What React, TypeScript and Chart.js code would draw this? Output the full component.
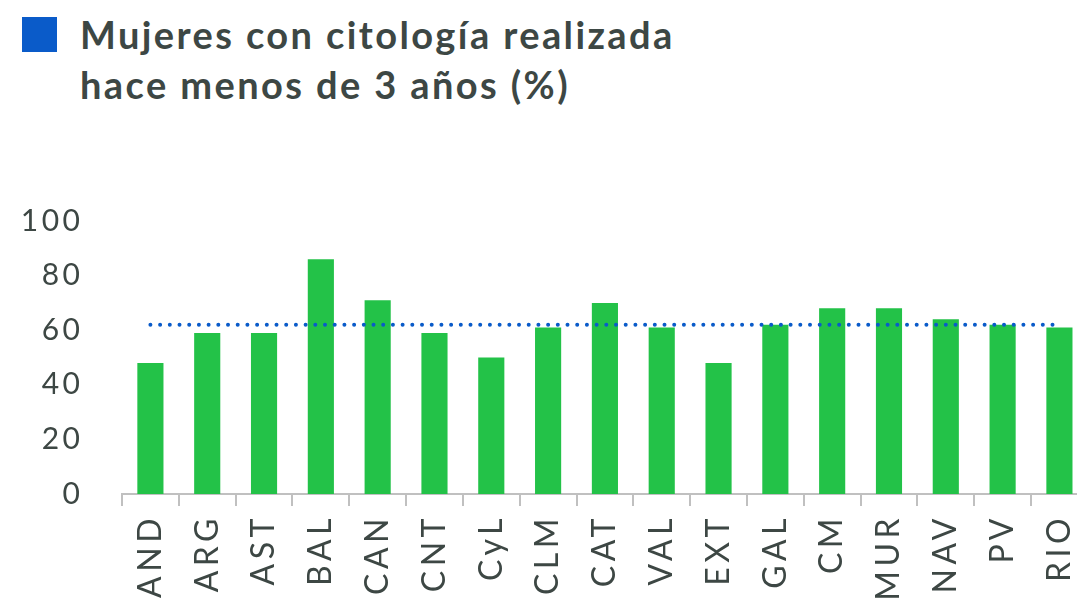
import React, { useEffect, useRef } from "react";
import { Chart, registerables } from "chart.js";

Chart.register(...registerables);

const categories = ["AND", "ARG", "AST", "BAL", "CAN", "CNT", "CyL", "CLM", "CAT", "VAL", "EXT", "GAL", "CM", "MUR", "NAV", "PV", "RIO"];
const values = [48, 59, 59, 86, 71, 59, 50, 61, 70, 61, 48, 62, 68, 68, 64, 62, 61];
const averageValue = 62;
const yTicks = [0, 20, 40, 60, 80, 100];
const titleLines = ["Mujeres con citología realizada", "hace menos de 3 años (%)"];

const GREEN = "#23c248";
const BLUE = "#0a5bc9";
const TEXT = "#3d4744";
const AXIS = "#c0c0c0";

function withSpacing(spacing: number) {
  return (s: any) => {
    if (s.__patched) return;
    s.__patched = true;
    const orig = s.drawLabels.bind(s);
    s.drawLabels = (area: any) => {
      const ctx = s.ctx;
      ctx.save();
      ctx.letterSpacing = spacing + "px";
      orig(area);
      ctx.restore();
    };
  };
}

export default function App() {
  const ref = useRef<HTMLCanvasElement | null>(null);

  useEffect(() => {
    document.body.style.margin = "0";
    document.body.style.overflow = "hidden";
    if (!ref.current) return;
    const patchX = withSpacing(4.5);
    const patchY = withSpacing(3.5);
    const chart = new Chart(ref.current, {
      type: "bar",
      data: {
        labels: categories,
        datasets: [
          {
            type: "line",
            label: "Media",
            data: categories.map(() => averageValue),
            borderColor: BLUE,
            backgroundColor: BLUE,
            borderWidth: 4,
            borderDash: [0, 9.7],
            borderCapStyle: "round",
            pointRadius: 0,
            order: 0,
          } as any,
          {
            type: "bar",
            label: "Citología",
            data: values,
            backgroundColor: GREEN,
            barPercentage: 0.46,
            categoryPercentage: 1,
            order: 1,
          },
        ],
      },
      options: {
        responsive: false,
        animation: false,
        layout: { padding: { top: 221, right: 6, left: 0, bottom: 0 } },
        plugins: { legend: { display: false }, tooltip: { enabled: false }, title: { display: false } },
        scales: {
          x: {
            offset: true,
            grid: {
              display: true,
              drawOnChartArea: false,
              drawTicks: true,
              tickLength: 12,
              color: AXIS,
              lineWidth: 2,
              offset: true,
            },
            border: { display: true, color: AXIS, width: 2 },
            ticks: {
              minRotation: 90,
              maxRotation: 90,
              autoSkip: false,
              padding: 8,
              color: TEXT,
              font: { family: "Lato", weight: "400", size: 32 },
            },
            afterFit: (s: any) => {
              s.height = 603 - 494;
              patchX(s);
            },
          },
          y: {
            min: 0,
            max: 100,
            afterBuildTicks: (s: any) => {
              s.ticks = yTicks.map((v) => ({ value: v }));
            },
            grid: { display: false, drawTicks: false },
            border: { display: false },
            ticks: {
              padding: 38.5,
              color: TEXT,
              font: { family: "Lato", weight: "400", size: 30 },
            },
            afterFit: (s: any) => {
              s.width = 122;
              patchY(s);
            },
          },
        },
      },
    });
    return () => chart.destroy();
  }, []);

  return (
    <div style={{ position: "relative", width: 1077, height: 603, overflow: "hidden", background: "#fff" }}>
      <div style={{ position: "absolute", left: 22, top: 17, width: 35, height: 35, background: BLUE }} />
      <div
        style={{
          position: "absolute",
          left: 80,
          top: 9,
          fontFamily: "Lato, sans-serif",
          fontWeight: 700,
          fontSize: 38,
          lineHeight: "50px",
          letterSpacing: "2.4px",
          color: TEXT,
          whiteSpace: "nowrap",
        }}
      >
        {titleLines.map((t, i) => (
          <div key={i}>{t}</div>
        ))}
      </div>
      <canvas ref={ref} width={1106} height={603} style={{ position: "absolute", left: 0, top: 0 }} />
    </div>
  );
}
